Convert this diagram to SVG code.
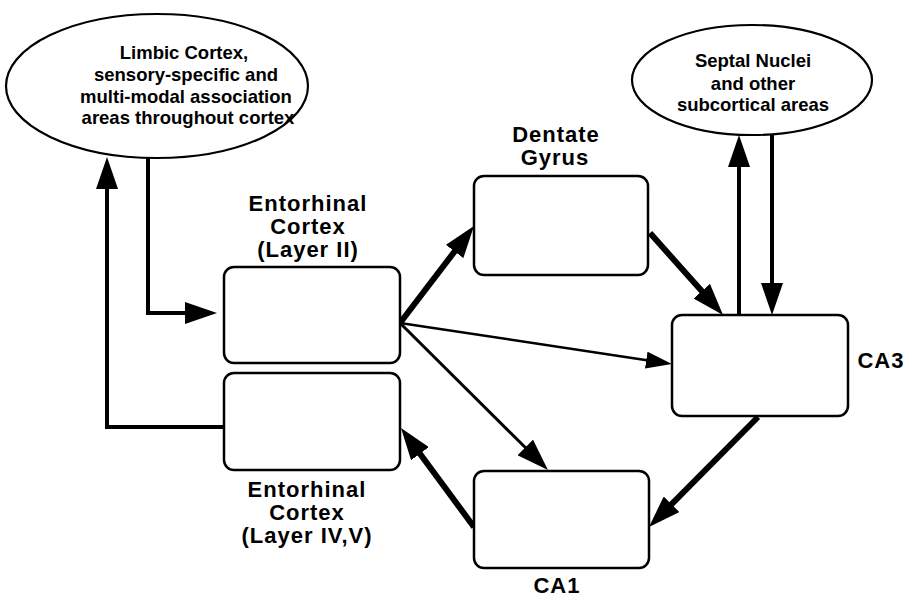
<svg xmlns="http://www.w3.org/2000/svg" width="908" height="597" viewBox="0 0 908 597">
  <style>
    .lbl { font-family: "Liberation Sans", Arial, Helvetica, sans-serif; font-weight: bold; fill: #000; text-anchor: middle; }
    .big { font-size: 22px; letter-spacing: 1px; }
    .small { font-size: 18.5px; }
    .box { fill: #fff; stroke: #000; stroke-width: 2.5; }
    .oval { fill: #fff; stroke: #000; stroke-width: 2.2; }
    .wire { fill: none; stroke: #000; stroke-linejoin: miter; stroke-linecap: butt; }
    .w6 { stroke-width: 6; }
    .w4 { stroke-width: 4; }
    .w3 { stroke-width: 3; }
    .w2 { stroke-width: 2.5; }
  </style>
  <defs>
    <!-- filled arrowheads; the line stops 4px inside the head -->
    <marker id="head" viewBox="0 0 32 22" refX="4" refY="11" markerWidth="32" markerHeight="22" markerUnits="userSpaceOnUse" orient="auto">
      <path d="M0,0 L32,11 L0,22 Z" fill="#000"/>
    </marker>
    <marker id="headSm" viewBox="0 0 26 17" refX="4" refY="8.5" markerWidth="26" markerHeight="17" markerUnits="userSpaceOnUse" orient="auto">
      <path d="M0,0 L26,8.5 L0,17 Z" fill="#000"/>
    </marker>
  </defs>

  <rect width="908" height="597" fill="#fff"/>

  <g id="connectors">
    <!-- cortex -> entorhinal layer II -->
    <path class="wire w4" d="M148,157 V313 H189" marker-end="url(#head)"/>
    <!-- entorhinal layer IV,V -> cortex -->
    <path class="wire w4" d="M224,427 H107 V185" marker-end="url(#head)"/>
    <!-- entorhinal II -> dentate gyrus -->
    <path class="wire w6" d="M400,323 L457,248.3" marker-end="url(#head)"/>
    <!-- entorhinal II -> CA3 -->
    <path class="wire w2" d="M400,323 L650.2,360.7" marker-end="url(#headSm)"/>
    <!-- entorhinal II -> CA1 -->
    <path class="wire w3" d="M400,323 L528.1,450.3" marker-end="url(#head)"/>
    <!-- dentate gyrus -> CA3 -->
    <path class="wire w6" d="M650,233 L704.4,294.1" marker-end="url(#head)"/>
    <!-- CA3 -> septal nuclei -->
    <path class="wire w4" d="M739,315 V163" marker-end="url(#head)"/>
    <!-- septal nuclei -> CA3 -->
    <path class="wire w4" d="M772,135 V287" marker-end="url(#head)"/>
    <!-- CA3 -> CA1 -->
    <path class="wire w6" d="M758,417 L668.7,507.1" marker-end="url(#head)"/>
    <!-- CA1 -> entorhinal IV,V -->
    <path class="wire w6" d="M474,527 L417.6,450.5" marker-end="url(#head)"/>
  </g>

  <g id="cortex">
    <ellipse class="oval" cx="157" cy="86" rx="151" ry="72"/>
    <text class="lbl small" x="184" y="59">Limbic Cortex,</text>
    <text class="lbl small" x="186" y="81">sensory-specific and</text>
    <text class="lbl small" x="186" y="102.5">multi-modal association</text>
    <text class="lbl small" x="188" y="124">areas throughout cortex</text>
  </g>

  <g id="septal">
    <ellipse class="oval" cx="752" cy="80" rx="120" ry="55"/>
    <text class="lbl small" x="753" y="67">Septal Nuclei</text>
    <text class="lbl small" x="753" y="90">and other</text>
    <text class="lbl small" x="753" y="111">subcortical areas</text>
  </g>

  <g id="entorhinal-II">
    <rect class="box" x="224" y="267" width="176" height="96" rx="10"/>
    <text class="lbl big" x="308" y="211">Entorhinal</text>
    <text class="lbl big" x="308" y="234">Cortex</text>
    <text class="lbl big" x="308" y="257">(Layer II)</text>
  </g>

  <g id="entorhinal-IV-V">
    <rect class="box" x="224" y="373" width="176" height="97" rx="10"/>
    <text class="lbl big" x="307" y="497">Entorhinal</text>
    <text class="lbl big" x="307" y="520">Cortex</text>
    <text class="lbl big" x="307" y="543">(Layer IV,V)</text>
  </g>

  <g id="dentate">
    <rect class="box" x="474" y="176" width="174" height="99" rx="10"/>
    <text class="lbl big" x="556" y="142">Dentate</text>
    <text class="lbl big" x="555" y="165">Gyrus</text>
  </g>

  <g id="ca3">
    <rect class="box" x="672" y="315" width="176" height="101" rx="10"/>
    <text class="lbl big" x="881" y="368">CA3</text>
  </g>

  <g id="ca1">
    <rect class="box" x="474" y="471" width="175" height="97" rx="10"/>
    <text class="lbl big" x="557" y="593">CA1</text>
  </g>
</svg>
